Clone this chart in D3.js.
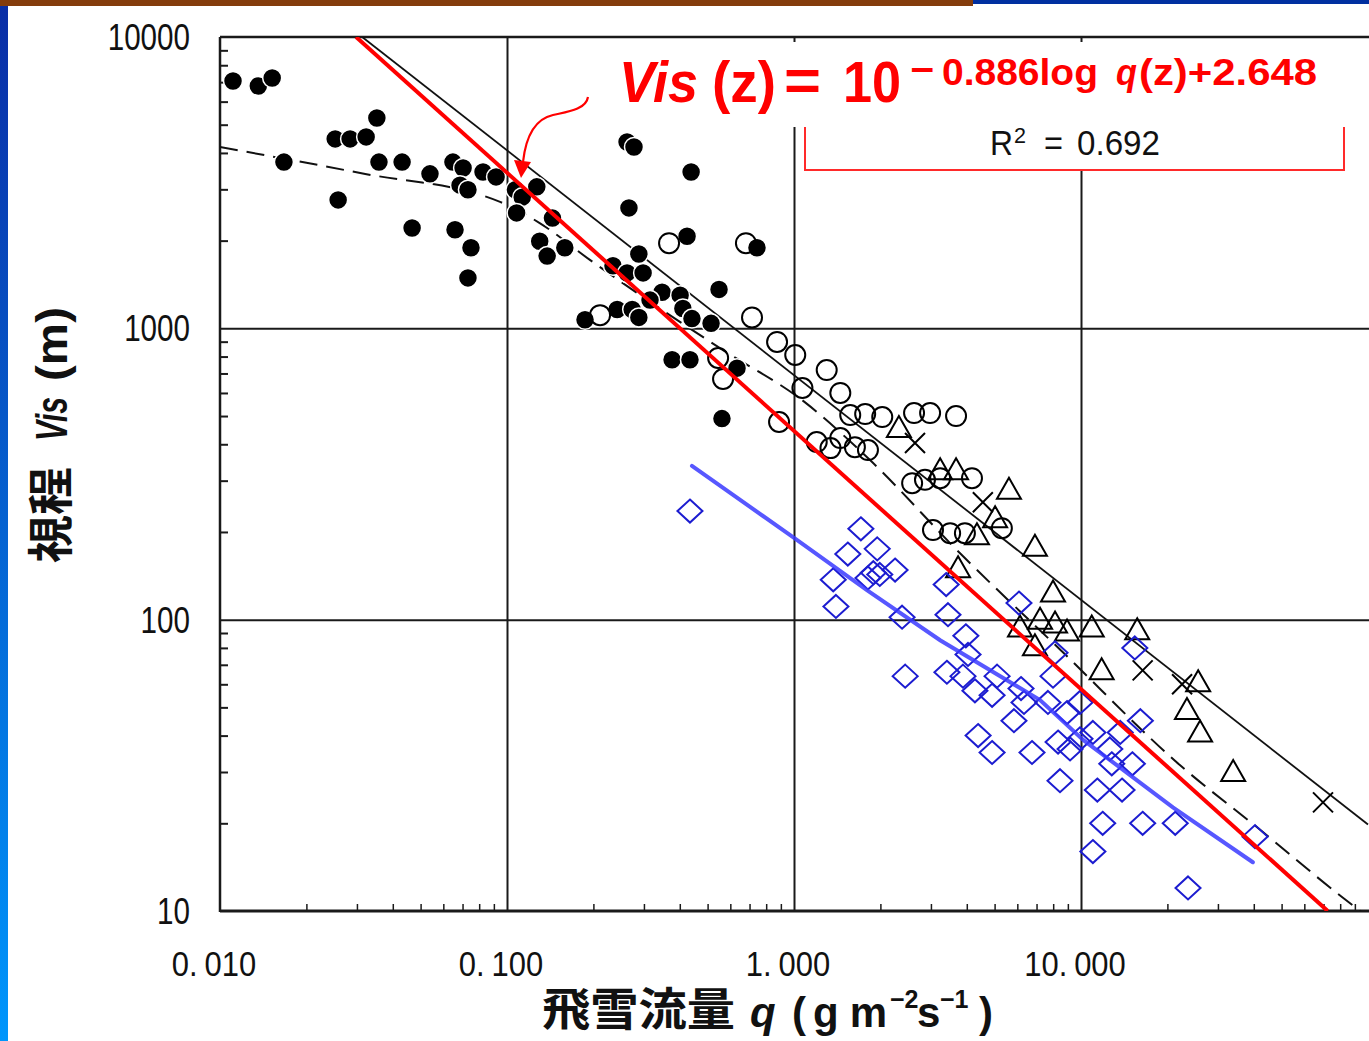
<!DOCTYPE html>
<html>
<head>
<meta charset="utf-8">
<script src="https://cdn.jsdelivr.net/npm/d3@7"></script>
<style>
body { margin: 0; background: #fff; }
svg { display: block; }
</style>
</head>
<body>
<svg width="1369" height="1041"></svg>
<script>
// values, each point is [q (g m-2 s-1), Vis (m)]
var filledPts = [[0.0111,7060],[0.0136,6790],[0.0152,7230],[0.0167,3720],[0.0252,4470],[0.0284,4470],[0.0323,4540],
  [0.0352,5270],[0.0358,3720],[0.0431,3720],[0.0258,2760],[0.0467,2210],[0.0539,3390],[0.0648,3720],[0.0703,3550],
  [0.0686,3100],[0.0731,2990],[0.0659,2180],[0.0749,1890],[0.0731,1490],[0.0825,3440],[0.0916,3310],[0.107,2990],
  [0.113,2820],[0.108,2490],[0.127,3060],[0.144,2390],[0.130,1990],[0.138,1770],[0.159,1890],[0.262,4360],[0.277,4190],
  [0.266,2590],[0.288,1800],[0.234,1640],[0.262,1550],[0.298,1550],[0.187,1070],[0.242,1160],[0.273,1160],[0.288,1090],
  [0.438,3440],[0.424,2070],[0.548,1360],[0.347,1330],[0.401,1300],[0.315,1250],[0.410,1170],[0.441,1080],[0.514,1040],
  [0.376,780],[0.434,780],[0.633,730],[0.561,490],[0.743,1890]];

var openPts = [[0.367,1960],[0.680,1960],[0.211,1110],[0.714,1090],[0.873,898],[1.01,810],[1.30,719],[0.544,791],
  [0.566,670],[1.07,624],[1.45,600],[1.57,504],[1.77,508],[2.03,496],[2.62,512],[2.98,512],[3.67,500],[0.887,477],
  [1.20,407],[1.34,388],[1.45,420],[1.63,391],[1.81,382],[2.58,294],[2.86,302],[3.23,306],[4.17,306],[3.05,203],
  [3.50,198],[3.94,198],[5.30,206]];

var trianglePts = [[2.32,455],[3.23,326],[3.67,326],[5.61,279],[4.34,195],[6.91,178],[3.73,150],[7.99,124],[6.13,94],
  [7.20,100],[8.12,97],[8.94,91],[6.91,81],[10.9,94],[15.7,92],[11.8,67],[25.6,61],[23.4,49],[26.0,41],[33.9,30],[5.02,223]];

var crossPts = [[2.64,404],[4.55,253],[16.4,67],[22.5,60],[69.7,23.6]];

var diamondPts = [[0.434,236],[1.71,205],[1.54,168],[1.95,175],[1.37,137],[1.81,139],[1.99,143],[1.89,145],[2.25,148],
  [1.40,111],[2.38,102],[3.39,132],[3.44,104],[3.97,88],[4.04,76],[2.44,64],[3.41,66],[3.88,64],[4.27,57],[5.10,64],
  [4.90,55],[6.18,58],[6.33,52],[5.84,45],[4.38,40],[4.90,35],[6.75,35],[7.99,64],[6.08,114],[8.12,77],[7.67,52],
  [8.94,48],[9.92,52],[8.32,38],[9.16,36],[8.45,28],[11.0,41],[12.6,36],[13.7,41],[15.1,32],[12.8,32],[11.4,26],
  [13.9,26],[11.9,20],[16.4,20],[21.3,20],[11.0,16],[16.1,45],[15.4,80],[40.4,18],[23.6,12],[9.92,39]];

// fitted lines, also
var blueFit = [[0.441,337],[0.992,192],[1.80,126],[3.23,85],[7.20,53],[10.2,38.6],[20.9,22.7],[39.7,14.7]];
var dashedFit = [[0.0100,4190],[0.0308,3412],[0.0946,2716],[0.130,2298],[0.195,1714],[0.552,855],
  [1.09,558],[1.84,353],[3.79,169],[8.45,79],[22.1,31.7],[42.1,19.0],[81.8,11.1],[97.8,9.7]];
var solidFit = [[0.0313,10000],[100,19.8]];
var redFit = [[0.0298,10000],[72.4,10]];

var xTicks = [0.01, 0.1, 1, 10];
var xTickLabels = ["0.010", "0.100", "1.000", "10.000"];
var yTicks = [10, 100, 1000, 10000];
var yTickLabels = ["10", "100", "1000", "10000"];

var latin = "'Liberation Sans', Arial, sans-serif";
var cjk = "'Noto Sans CJK JP', 'Noto Sans CJK SC', sans-serif";

var svg = d3.select("svg"),
    W = 1369, H = 1041,
    plot = {left: 220, top: 37, right: 1368, bottom: 911};

var x = d3.scaleLog().domain([0.01, 100]).range([plot.left, plot.right]);
var y = d3.scaleLog().domain([10, 10000]).range([plot.bottom, plot.top]);

var defs = svg.append("defs");
var grad = defs.append("linearGradient").attr("id", "sideBar")
    .attr("x1", 0).attr("y1", 0).attr("x2", 0).attr("y2", 1);
grad.append("stop").attr("offset", "0%").attr("stop-color", "#0a2ea6");
grad.append("stop").attr("offset", "100%").attr("stop-color", "#0096fc");
defs.append("clipPath").attr("id", "plotClip").append("rect")
    .attr("x", plot.left).attr("y", plot.top)
    .attr("width", W - plot.left).attr("height", plot.bottom - plot.top);

// slide decoration
svg.append("rect").attr("x", 0).attr("y", 6).attr("width", 8).attr("height", H - 6).attr("fill", "url(#sideBar)");
svg.append("rect").attr("x", 0).attr("y", 0).attr("width", 973).attr("height", 6).attr("fill", "#843c0c");
svg.append("rect").attr("x", 973).attr("y", 0).attr("width", W - 973).attr("height", 4).attr("fill", "#0030a0");

// minor ticks (inside the frame)
var minorX = [], minorY = [];
xTicks.forEach(function(d) { for (var k = 2; k < 10; k++) minorX.push(d * k); });
yTicks.slice(0, 3).forEach(function(d) { for (var k = 2; k < 10; k++) minorY.push(d * k); });

function styleTicks(g, w) {
  g.select(".domain").remove();
  g.selectAll("line").attr("stroke", "#1a1a1a").attr("stroke-width", w);
}

svg.append("g")
    .attr("transform", "translate(" + plot.left + ",0)")
    .call(d3.axisLeft(y).tickValues(minorY).tickSize(-8).tickFormat(""))
    .call(styleTicks, 2);

svg.append("g")
    .attr("transform", "translate(0," + plot.bottom + ")")
    .call(d3.axisBottom(x).tickValues(minorX.filter(function(d) { return d < 100; })).tickSize(-7).tickFormat(""))
    .call(styleTicks, 1.5);

// grid lines at the decades
svg.append("g")
    .attr("transform", "translate(0," + plot.bottom + ")")
    .call(d3.axisBottom(x).tickValues([0.1, 1, 10]).tickSize(-(plot.bottom - plot.top)).tickFormat(""))
    .call(styleTicks, 2);

svg.append("g")
    .attr("transform", "translate(" + plot.left + ",0)")
    .call(d3.axisLeft(y).tickValues([100, 1000]).tickSize(-(W - plot.left)).tickFormat(""))
    .call(styleTicks, 2);

// frame
svg.append("line").attr("x1", plot.left).attr("x2", W).attr("y1", plot.top).attr("y2", plot.top)
    .attr("stroke", "#1a1a1a").attr("stroke-width", 2.5);
svg.append("line").attr("x1", plot.left).attr("x2", plot.left).attr("y1", plot.top).attr("y2", plot.bottom + 1)
    .attr("stroke", "#1a1a1a").attr("stroke-width", 2.5);
svg.append("line").attr("x1", plot.left).attr("x2", W).attr("y1", plot.bottom).attr("y2", plot.bottom)
    .attr("stroke", "#1a1a1a").attr("stroke-width", 3);

// tick labels
svg.selectAll(".ylab")
  .data(yTicks)
  .enter().append("text")
    .attr("class", "ylab")
    .attr("transform", function(d) { return "translate(190," + (y(d) + 13) + ") scale(0.8,1)"; })
    .attr("text-anchor", "end")
    .attr("font-family", latin)
    .attr("font-size", 37)
    .attr("fill", "#111")
    .text(function(d, i) { return yTickLabels[i]; });

var xl = svg.selectAll(".xlab")
  .data(xTicks)
  .enter().append("text")
    .attr("class", "xlab")
    .attr("transform", function(d) { return "translate(" + (x(d) - 6) + ",976) scale(0.86,1)"; })
    .attr("text-anchor", "middle")
    .attr("font-family", latin)
    .attr("font-size", 36)
    .attr("fill", "#111");
xl.append("tspan").text(function(d, i) { return xTickLabels[i].split(".")[0] + "."; });
xl.append("tspan").attr("dx", 8).text(function(d, i) { return xTickLabels[i].split(".")[1]; });

// fitted black lines
var line = d3.line()
    .x(function(d) { return x(d[0]); })
    .y(function(d) { return y(d[1]); });

var lines = svg.append("g").attr("clip-path", "url(#plotClip)");
lines.append("path").datum(solidFit).attr("d", line)
    .attr("fill", "none").attr("stroke", "#111").attr("stroke-width", 1.8);
lines.append("path").datum(dashedFit).attr("d", line.curve(d3.curveMonotoneX))
    .attr("fill", "none").attr("stroke", "#111").attr("stroke-width", 2).attr("stroke-dasharray", "18,9");
line.curve(d3.curveLinear);

// markers
var marks = svg.append("g").attr("clip-path", "url(#plotClip)");
function pos(d) { return "translate(" + x(d[0]) + "," + y(d[1]) + ")"; }

marks.selectAll(".filled")
  .data(filledPts)
  .enter().append("circle")
    .attr("class", "filled")
    .attr("cx", function(d) { return x(d[0]); })
    .attr("cy", function(d) { return y(d[1]); })
    .attr("r", 9.5)
    .attr("fill", "#000")
    .attr("stroke", "#fff")
    .attr("stroke-width", 1.5);

marks.selectAll(".open")
  .data(openPts)
  .enter().append("circle")
    .attr("class", "open")
    .attr("cx", function(d) { return x(d[0]); })
    .attr("cy", function(d) { return y(d[1]); })
    .attr("r", 10)
    .attr("fill", "none")
    .attr("stroke", "#000")
    .attr("stroke-width", 2);

marks.selectAll(".tri")
  .data(trianglePts)
  .enter().append("path")
    .attr("class", "tri")
    .attr("transform", pos)
    .attr("d", "M0,-12L12,9L-12,9Z")
    .attr("fill", "none")
    .attr("stroke", "#000")
    .attr("stroke-width", 2);

marks.selectAll(".cross")
  .data(crossPts)
  .enter().append("path")
    .attr("class", "cross")
    .attr("transform", pos)
    .attr("d", "M-10,-10L10,10M-10,10L10,-10")
    .attr("fill", "none")
    .attr("stroke", "#000")
    .attr("stroke-width", 2);

marks.selectAll(".dia")
  .data(diamondPts)
  .enter().append("path")
    .attr("class", "dia")
    .attr("transform", pos)
    .attr("d", "M0,-11.5L12.5,0L0,11.5L-12.5,0Z")
    .attr("fill", "none")
    .attr("stroke", "#1c1cd0")
    .attr("stroke-width", 2);

// blue and red fits on top
lines = svg.append("g").attr("clip-path", "url(#plotClip)");
lines.append("path").datum(blueFit).attr("d", line)
    .attr("fill", "none").attr("stroke", "#3a3aff").attr("stroke-opacity", 0.85)
    .attr("stroke-width", 4).attr("stroke-linecap", "round");
lines.append("path").datum(redFit).attr("d", line)
    .attr("fill", "none").attr("stroke", "#ff0000").attr("stroke-width", 4);

// R^2 box (top edge hidden under the equation)
svg.append("rect").attr("x", 805).attr("y", 100).attr("width", 539).attr("height", 70)
    .attr("fill", "#fff").attr("stroke", "#ff2a2a").attr("stroke-width", 2);
svg.append("text").attr("x", 990).attr("y", 155).attr("font-family", latin).attr("font-size", 35)
    .attr("fill", "#111").attr("textLength", 23).attr("lengthAdjust", "spacingAndGlyphs").text("R");
svg.append("text").attr("x", 1014).attr("y", 143).attr("font-family", latin).attr("font-size", 22)
    .attr("fill", "#111").attr("textLength", 12).attr("lengthAdjust", "spacingAndGlyphs").text("2");
svg.append("text").attr("x", 1044).attr("y", 155).attr("font-family", latin).attr("font-size", 35)
    .attr("fill", "#111").attr("textLength", 19).attr("lengthAdjust", "spacingAndGlyphs").text("=");
svg.append("text").attr("x", 1077).attr("y", 155).attr("font-family", latin).attr("font-size", 35)
    .attr("fill", "#111").attr("textLength", 83).attr("lengthAdjust", "spacingAndGlyphs").text("0.692");

// equation
svg.append("rect").attr("x", 600).attr("y", 42).attr("width", W - 600).attr("height", 85).attr("fill", "#fff");
var eq = [
  {t: "Vis", x: 619, y: 102, s: 58, w: 79, it: true},
  {t: "(z)", x: 712, y: 102, s: 58, w: 64},
  {t: "=", x: 784, y: 100, s: 58, w: 37},
  {t: "10", x: 843, y: 102, s: 58, w: 58},
  {t: "\u2212", x: 910, y: 82, s: 36, w: 24},
  {t: "0.886log", x: 942, y: 85, s: 36, w: 156},
  {t: "q", x: 1116, y: 85, s: 36, w: 21, it: true},
  {t: "(z)+2.648", x: 1139, y: 85, s: 36, w: 178}
];
svg.selectAll(".eq")
  .data(eq)
  .enter().append("text")
    .attr("class", "eq")
    .attr("x", function(d) { return d.x; })
    .attr("y", function(d) { return d.y; })
    .attr("font-family", latin)
    .attr("font-weight", "bold")
    .attr("font-style", function(d) { return d.it ? "italic" : "normal"; })
    .attr("font-size", function(d) { return d.s; })
    .attr("textLength", function(d) { return d.w; })
    .attr("lengthAdjust", "spacingAndGlyphs")
    .attr("fill", "#ff0000")
    .text(function(d) { return d.t; });

// arrow pointing at the red line
svg.append("path")
    .attr("d", "M588,97C586,110 566,112 553,115C535,119 526,135 523,162")
    .attr("fill", "none").attr("stroke", "#ff0000").attr("stroke-width", 2.2);
svg.append("path")
    .attr("d", "M514,160L531,162L521,178Z")
    .attr("fill", "#ff0000");

// axis titles
var yTitle = svg.append("g").attr("transform", "translate(67,0) rotate(-90)");
var yParts = [
  {t: "視程", x: -563, s: 46, w: 96, f: cjk},
  {t: "Vis", x: -441, s: 44, w: 44, f: latin, it: true},
  {t: "(m)", x: -381, s: 44, w: 74, f: latin}
];
yTitle.selectAll("text")
  .data(yParts)
  .enter().append("text")
    .attr("x", function(d) { return d.x; })
    .attr("y", 0)
    .attr("font-family", function(d) { return d.f; })
    .attr("font-weight", "bold")
    .attr("font-style", function(d) { return d.it ? "italic" : "normal"; })
    .attr("font-size", function(d) { return d.s; })
    .attr("textLength", function(d) { return d.w; })
    .attr("lengthAdjust", "spacingAndGlyphs")
    .attr("fill", "#111")
    .text(function(d) { return d.t; });

// x title: kanji part, then the unit part as one text with tspans
svg.append("text")
    .attr("x", 542).attr("y", 1026)
    .attr("font-family", cjk).attr("font-weight", "bold").attr("font-size", 45)
    .attr("textLength", 193).attr("lengthAdjust", "spacingAndGlyphs")
    .attr("fill", "#111")
    .text("飛雪流量");

var xParts = [
  {t: "q", x: 750, y: 1027, s: 42, it: true},
  {t: "(", x: 792, y: 1027, s: 42},
  {t: "g", x: 813, y: 1027, s: 42},
  {t: " m", x: 838, y: 1027, s: 42},
  {t: "\u22122", x: 890, y: 1008, s: 25},
  {t: "s", x: 917, y: 1027, s: 42},
  {t: "\u22121", x: 940, y: 1008, s: 25},
  {t: ")", x: 979, y: 1027, s: 42}
];
svg.append("text")
    .attr("font-family", latin)
    .attr("font-weight", "bold")
    .attr("fill", "#111")
  .selectAll("tspan")
  .data(xParts)
  .enter().append("tspan")
    .attr("x", function(d) { return d.x; })
    .attr("y", function(d) { return d.y; })
    .attr("font-size", function(d) { return d.s; })
    .attr("font-style", function(d) { return d.it ? "italic" : "normal"; })
    .text(function(d) { return d.t; });
</script>
</body>
</html>
